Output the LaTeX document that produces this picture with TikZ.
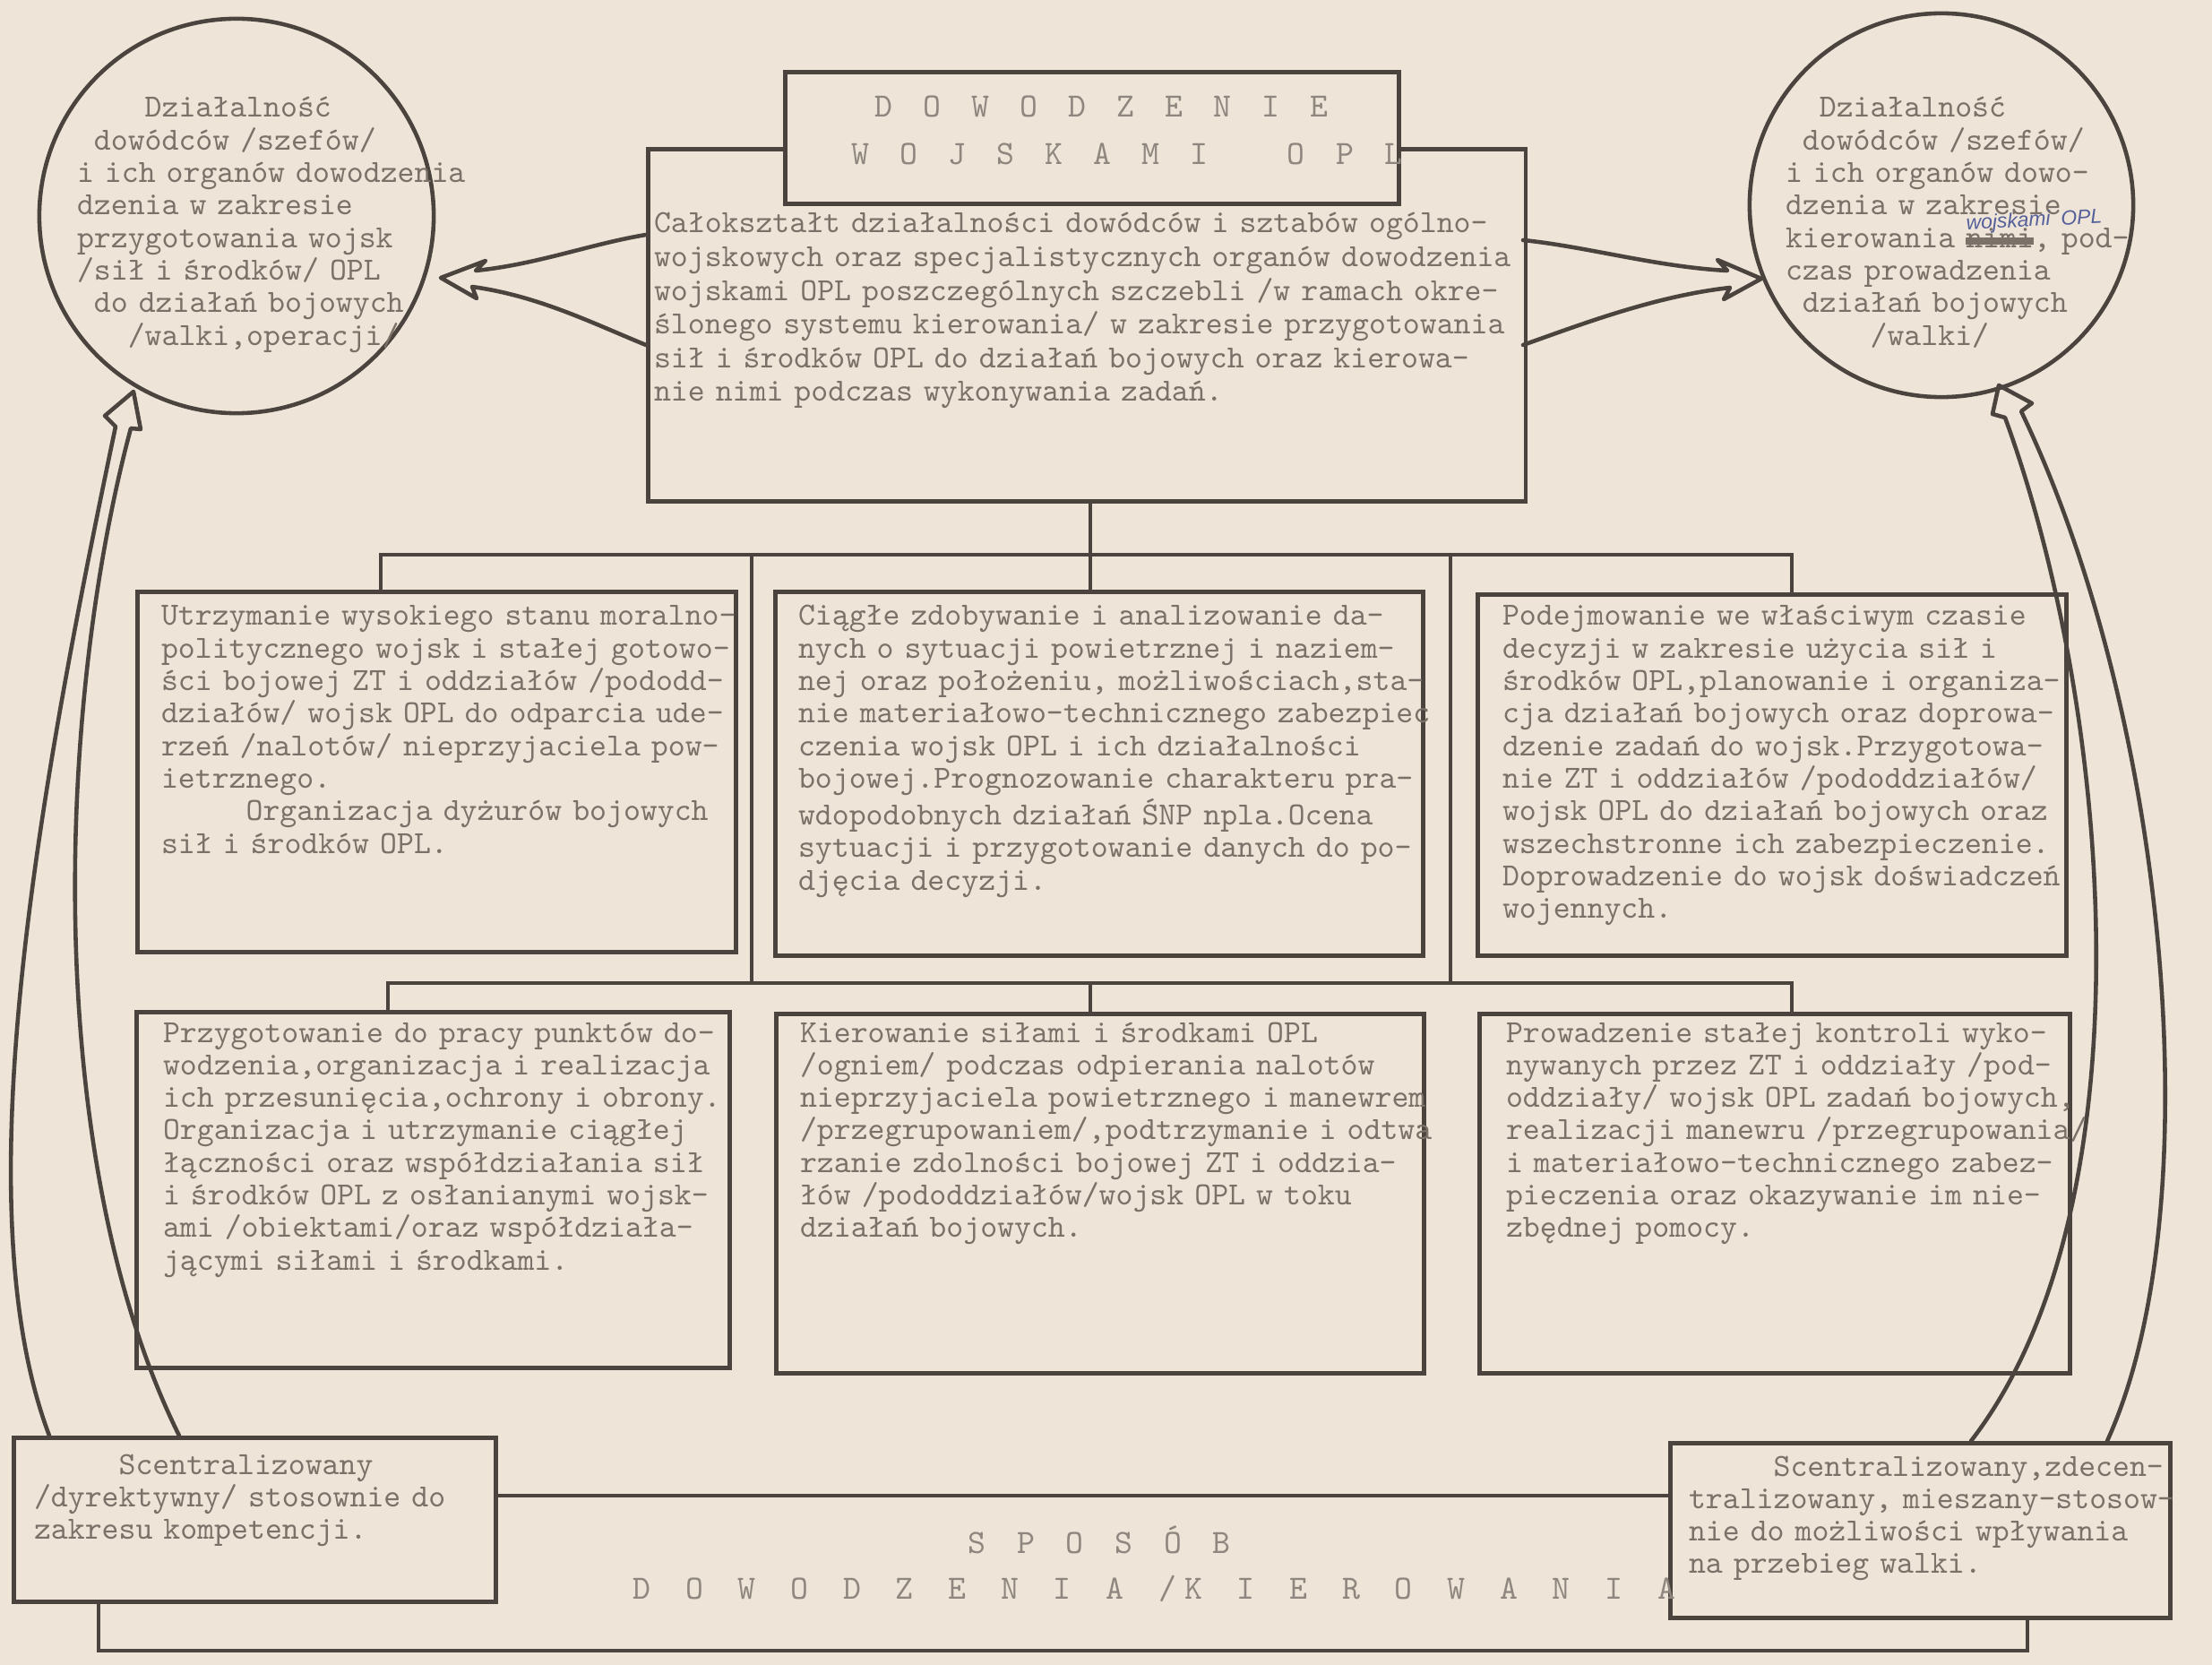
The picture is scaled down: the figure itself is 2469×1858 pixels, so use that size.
\documentclass[tikz,border=0pt]{standalone}
\usepackage{fontspec}
\usepackage{graphicx}
\newfontfamily\hand{Liberation Sans}
\definecolor{paper}{HTML}{EEE5D8}
\definecolor{ink}{HTML}{4A433E}
\definecolor{type}{HTML}{7B7168}
\definecolor{pen}{HTML}{55609A}
\newlength\cw
\newcommand\tsp[1]{\settowidth\cw{x}\hspace*{#1\cw}}
\newcommand\fixsp{\fontdimen2\font=0.525em\fontdimen3\font=0pt\fontdimen4\font=0pt\fontdimen7\font=0pt}
\newcommand\struck[1]{\settowidth\cw{#1}\rlap{\rule[0.9pt]{\cw}{2.2pt}}#1}
\newcommand\handnote[1]{\rlap{\raisebox{5.6pt}[0pt][0pt]{\rotatebox{3}{\hand\itshape\fontsize{6.5}{7}\selectfont\color{pen}#1}}}}
\newcommand\spaced[2]{\def\spcell{#1}\spacedloop#2\relax}
\def\spacedloop#1{\ifx#1\relax\else\makebox[\spcell][l]{#1}\expandafter\spacedloop\fi}
\frenchspacing
\begin{document}
\begin{tikzpicture}[x=0.01cm,y=-0.01cm,
  frame/.style={draw=ink, line width=1.3pt},
  tbox/.style={draw=ink, line width=1.3pt, fill=paper, anchor=north west, inner sep=0pt},
  circ/.style={draw=ink, line width=1.3pt, circle, inner sep=0pt},
  txt/.style={anchor=base west, inner sep=0pt, outer sep=0pt, text=type,
    font=\ttfamily\fontsize{10.25}{10.33}\selectfont\fixsp, text width=12cm, align=left},
  txtb/.style={txt, font=\ttfamily\fontsize{10.25}{10.67}\selectfont\fixsp},
  ttl/.style={anchor=base west, inner sep=0pt, text=type!85,
    font=\ttfamily\fontsize{10.8}{11}\selectfont},
  arr/.style={draw=ink, line width=1.3pt, line join=round, line cap=round},
]
\fill[paper] (0,0) rectangle (2469,1858);
\useasboundingbox (0,0) rectangle (2469,1858);

% circles
\node[circ, minimum size=4.40cm] (lc) at (264,241) {};
\node[circ, minimum size=4.28cm] (rc) at (2167,229) {};

% main box and title
\node[tbox, minimum width=9.79cm, minimum height=3.93cm] (bb) at (721,164) {};
\node[tbox, minimum width=6.85cm, minimum height=1.47cm] (tb) at (874,78) {};

% middle row
\node[tbox, minimum width=6.68cm, minimum height=4.02cm] (b1) at (151,658) {};
\node[tbox, minimum width=7.23cm, minimum height=4.06cm] (b2) at (863,658) {};
\node[tbox, minimum width=6.57cm, minimum height=4.03cm] (b3) at (1647,661) {};
% bottom row
\node[tbox, minimum width=6.62cm, minimum height=3.97cm] (b4) at (150,1127) {};
\node[tbox, minimum width=7.23cm, minimum height=4.01cm] (b5) at (864,1129) {};
\node[tbox, minimum width=6.59cm, minimum height=4.01cm] (b6) at (1649,1129) {};
% method boxes
\node[tbox, minimum width=5.38cm, minimum height=1.83cm] (lb) at (13,1602) {};
\node[tbox, minimum width=5.58cm, minimum height=1.95cm] (rb) at (1862,1608) {};

% tree connectors
\coordinate (j1) at (425,619);
\coordinate (j2) at (839,619);
\coordinate (j3) at (1619,619);
\coordinate (j4) at (2000,619);
\coordinate (k1) at (433,1097);
\coordinate (k2) at (839,1097);
\coordinate (k3) at (1217,1097);
\coordinate (k4) at (1619,1097);
\coordinate (k5) at (2000,1097);
\coordinate (m0) at (1217,557);
\draw[frame] (m0) -- (m0 |- b2.north);
\draw[frame] (j1 |- b1.north) -- (j1) -- (j4) -- (j4 |- b3.north);
\draw[frame] (j2) -- (k2);
\draw[frame] (j3) -- (k4);
\draw[frame] (k1 |- b4.north) -- (k1) -- (k5) -- (k5 |- b6.north);
\draw[frame] (k3) -- (k3 |- b5.north);

% bottom frame
\coordinate (f1) at (110,1842);
\coordinate (f2) at (2263,1842);
\coordinate (f3) at (551,1669);
\draw[frame] (f3) -- (f3 -| rb.west);
\draw[frame] (f1 |- lb.south) -- (f1) -- (f2) -- (f2 |- rb.south);

% arrow: main box -> left circle
\coordinate (dS1) at (721,262);
\coordinate (dS2) at (721,385);
\coordinate (dN1) at (531,302);
\coordinate (dN2) at (527,320);
\coordinate (dB1) at (542,291);
\coordinate (dB2) at (532,333);
\coordinate (dT) at (492,310);
\draw[arr] (dS1) .. controls (660,272) and (600,295) .. (dN1) -- (dB1) -- (dT) -- (dB2) -- (dN2) .. controls (600,330) and (660,360) .. (dS2);

% arrow: main box -> right circle
\coordinate (eS1) at (1700,268);
\coordinate (eS2) at (1700,385);
\coordinate (eN1) at (1928,302);
\coordinate (eN2) at (1931,321);
\coordinate (eB1) at (1917,290);
\coordinate (eB2) at (1924,334);
\coordinate (eT) at (1966,311);
\draw[arr] (eS1) .. controls (1770,275) and (1850,298) .. (eN1) -- (eB1) -- (eT) -- (eB2) -- (eN2) .. controls (1850,330) and (1770,360) .. (eS2);

% arrow: left method box -> left circle
\coordinate (bS1) at (55,1602);
\coordinate (bS2) at (200,1602);
\coordinate (bN1) at (129,476);
\coordinate (bN2) at (146,478);
\coordinate (bB1) at (117,464);
\coordinate (bB2) at (157,479);
\coordinate (bT) at (149,437);
\draw[arr] (bS1) .. controls (-40,1350) and (40,900) .. (bN1) -- (bB1) -- (bT) -- (bB2) -- (bN2) .. controls (60,800) and (50,1300) .. (bS2);

% arrow: right method box -> right circle
\coordinate (cS1) at (2200,1608);
\coordinate (cS2) at (2352,1608);
\coordinate (cN1) at (2238,466);
\coordinate (cN2) at (2256,459);
\coordinate (cB1) at (2224,462);
\coordinate (cB2) at (2268,450);
\coordinate (cT) at (2231,430);
\draw[arr] (cS1) .. controls (2400,1350) and (2360,800) .. (cN1) -- (cB1) -- (cT) -- (cB2) -- (cN2) .. controls (2420,800) and (2470,1350) .. (cS2);

% titles
\node[ttl] (t1) at (976,131) {\spaced{0.27cm}{D~O~W~O~D~Z~E~N~I~E}};
\node[ttl] (t2) at (950,184) {\spaced{0.27cm}{W~O~J~S~K~A~M~I~~~O~P~L}};
\node[ttl] (t3) at (1080,1733) {\spaced{0.273cm}{S~P~O~S~Ó~B}};
\node[ttl] (t4) at (706,1784) {\spaced{0.293cm}{D~O~W~O~D~Z~E~N~I~A~/K~I~E~R~O~W~A~N~I~A}};

% circle texts
\node[txt] (lct) at (86,131) {\tsp{4}Działalność\\ \tsp{1}dowódców /szefów/\\ i ich organów dowodzenia\\ dzenia w zakresie\\ przygotowania wojsk\\ /sił i środków/ OPL\\ \tsp{1}do działań bojowych\\ \tsp{3}/walki,operacji/};
\node[txt] (rct) at (1993,131) {\tsp{2}Działalność\\ \tsp{1}dowódców /szefów/\\ i ich organów dowo-\\ dzenia w zakresie\\ kierowania \handnote{wojskami OPL}\struck{nimi}, pod-\\ czas prowadzenia\\ \tsp{1}działań bojowych\\ \tsp{5}/walki/};

% main text
\node[txtb] (bbt) at (730,260) {Całokształt działalności dowódców i sztabów ogólno-\\ wojskowych oraz specjalistycznych organów dowodzenia\\ wojskami OPL poszczególnych szczebli /w ramach okre-\\ ślonego systemu kierowania/ w zakresie przygotowania\\ sił i środków OPL do działań bojowych oraz kierowa-\\ nie nimi podczas wykonywania zadań.};

% middle row texts
\node[txt] (b1t) at (180,698) {Utrzymanie wysokiego stanu moralno-\\ politycznego wojsk i stałej gotowo-\\ ści bojowej ZT i oddziałów /pododd-\\ działów/ wojsk OPL do odparcia ude-\\ rzeń /nalotów/ nieprzyjaciela pow-\\ ietrznego.\\ \tsp{5}Organizacja dyżurów bojowych\\ sił i środków OPL.};
\node[txt] (b2t) at (891,698) {Ciągłe zdobywanie i analizowanie da-\\ nych o sytuacji powietrznej i naziem-\\ nej oraz położeniu, możliwościach,sta-\\ nie materiałowo-technicznego zabezpiec\\ czenia wojsk OPL i ich działalności\\ bojowej.Prognozowanie charakteru pra-\\ wdopodobnych działań ŚNP npla.Ocena\\ sytuacji i przygotowanie danych do po-\\ djęcia decyzji.};
\node[txt] (b3t) at (1677,698) {Podejmowanie we właściwym czasie\\ decyzji w zakresie użycia sił i\\ środków OPL,planowanie i organiza-\\ cja działań bojowych oraz doprowa-\\ dzenie zadań do wojsk.Przygotowa-\\ nie ZT i oddziałów /pododdziałów/\\ wojsk OPL do działań bojowych oraz\\ wszechstronne ich zabezpieczenie.\\ Doprowadzenie do wojsk doświadczeń\\ wojennych.};

% bottom row texts
\node[txt] (b4t) at (182,1163) {Przygotowanie do pracy punktów do-\\ wodzenia,organizacja i realizacja\\ ich przesunięcia,ochrony i obrony.\\ Organizacja i utrzymanie ciągłej\\ łączności oraz współdziałania sił\\ i środków OPL z osłanianymi wojsk-\\ ami /obiektami/oraz współdziała-\\ jącymi siłami i środkami.};
\node[txt] (b5t) at (893,1163) {Kierowanie siłami i środkami OPL\\ /ogniem/ podczas odpierania nalotów\\ nieprzyjaciela powietrznego i manewrem\\ /przegrupowaniem/,podtrzymanie i odtwa\\ rzanie zdolności bojowej ZT i oddzia-\\ łów /pododdziałów/wojsk OPL w toku\\ działań bojowych.};
\node[txt] (b6t) at (1681,1163) {Prowadzenie stałej kontroli wyko-\\ nywanych przez ZT i oddziały /pod-\\ oddziały/ wojsk OPL zadań bojowych,\\ realizacji manewru /przegrupowania/\\ i materiałowo-technicznego zabez-\\ pieczenia oraz okazywanie im nie-\\ zbędnej pomocy.};

% method texts
\node[txt] (lbt) at (38,1645) {\tsp{5}Scentralizowany\\ /dyrektywny/ stosownie do\\ zakresu kompetencji.};
\node[txt] (rbt) at (1885,1647) {\tsp{5}Scentralizowany,zdecen-\\ tralizowany, mieszany-stosow-\\ nie do możliwości wpływania\\ na przebieg walki.};
\end{tikzpicture}
\end{document}
